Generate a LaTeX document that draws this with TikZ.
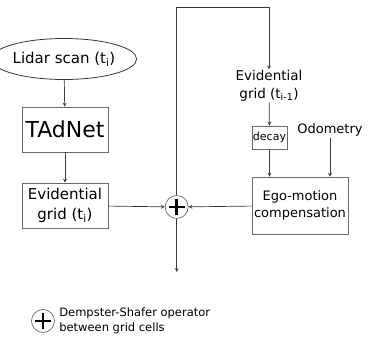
\documentclass[tikz,border=0pt]{standalone}
\usepackage{fontspec}
\setmainfont{DejaVu Sans}
\usepackage{xcolor}
\definecolor{wire}{RGB}{55,55,55}
\definecolor{frame}{RGB}{105,105,105}
\usetikzlibrary{arrows.meta,shapes.geometric}
\tikzset{>=stealth}
\tikzset{%
    blk/.style={draw=frame, line width=0.9pt, rectangle, inner sep=0pt, align=center},
    lbl/.style={inner sep=1pt, align=center},
    dsop/.style={draw=frame, line width=0.7pt, circle, minimum size=23pt, inner sep=0pt,
        path picture={\draw[line width=2.6pt,black] (path picture bounding box.center) ++(-8pt,0) -- ++(16pt,0);
                      \draw[line width=2.6pt,black] (path picture bounding box.center) ++(0,-8pt) -- ++(0,16pt);}}
}

\begin{document}
\begin{tikzpicture}[x=1pt,y=-1pt,line width=0.7pt]
    \useasboundingbox (0,0) rectangle (370,339);
	\node[ellipse, draw=wire, line width=0.8pt, minimum width=114pt, minimum height=41pt, inner sep=0pt, font=\fontsize{15}{17}\selectfont] (lidar) at (64,59) {Lidar scan (t\textsubscript{i})};
	\node[blk, minimum width=86pt, minimum height=45pt, font=\fontsize{22}{24}\selectfont] (tadnet) at (65,129.5) {TAdNet};
	\node[blk, minimum width=86pt, minimum height=45pt, font=\fontsize{15}{20}\selectfont] (evid) at (65,205.5) {Evidential\\grid (t\textsubscript{i})};
	\node[dsop] (ds) at (176.7,207) {};
    \node[lbl, font=\fontsize{13.5}{17.5}\selectfont] (prev) at (269,86) {Evidential\\grid (t\textsubscript{i-1})};
	\node[blk, minimum width=35pt, minimum height=23pt, font=\fontsize{11}{13}\selectfont] (decay) at (269.5,137.5) {decay};
	\node[lbl, font=\fontsize{13}{15}\selectfont] (odo) at (330,130) {Odometry};
	\node[blk, minimum width=96pt, minimum height=57pt, font=\fontsize{13}{17}\selectfont] (ego) at (300,205.5) {Ego-motion\\compensation};
    \coordinate (top) at (176.7,7);
    \coordinate (out) at (176.7,272);
  \draw[->,wire] (lidar) -- (tadnet);
  \draw[->,wire] (tadnet) -- (evid);
  \draw[->,wire] (evid) -- (ds);
  \draw[->,wire] (ego) -- (ds);
  \draw[->,wire] (ds) -- (out);
  \draw[->,wire] (ds) -- (top) -| (prev);
  \draw[->,wire] (prev) -- (decay);
  \draw[->,wire] (decay) -- (decay |- ego.north);
  \draw[->,wire] (odo) -- (odo |- ego.north);
    % legend
	\node[dsop] (key) at (43,321) {};
	\node[lbl, anchor=west, align=left, font=\fontsize{11.5}{14.5}\selectfont] (keytext) at (58,321) {Dempster-Shafer operator\\between grid cells};
    \end{tikzpicture}
\end{document}
